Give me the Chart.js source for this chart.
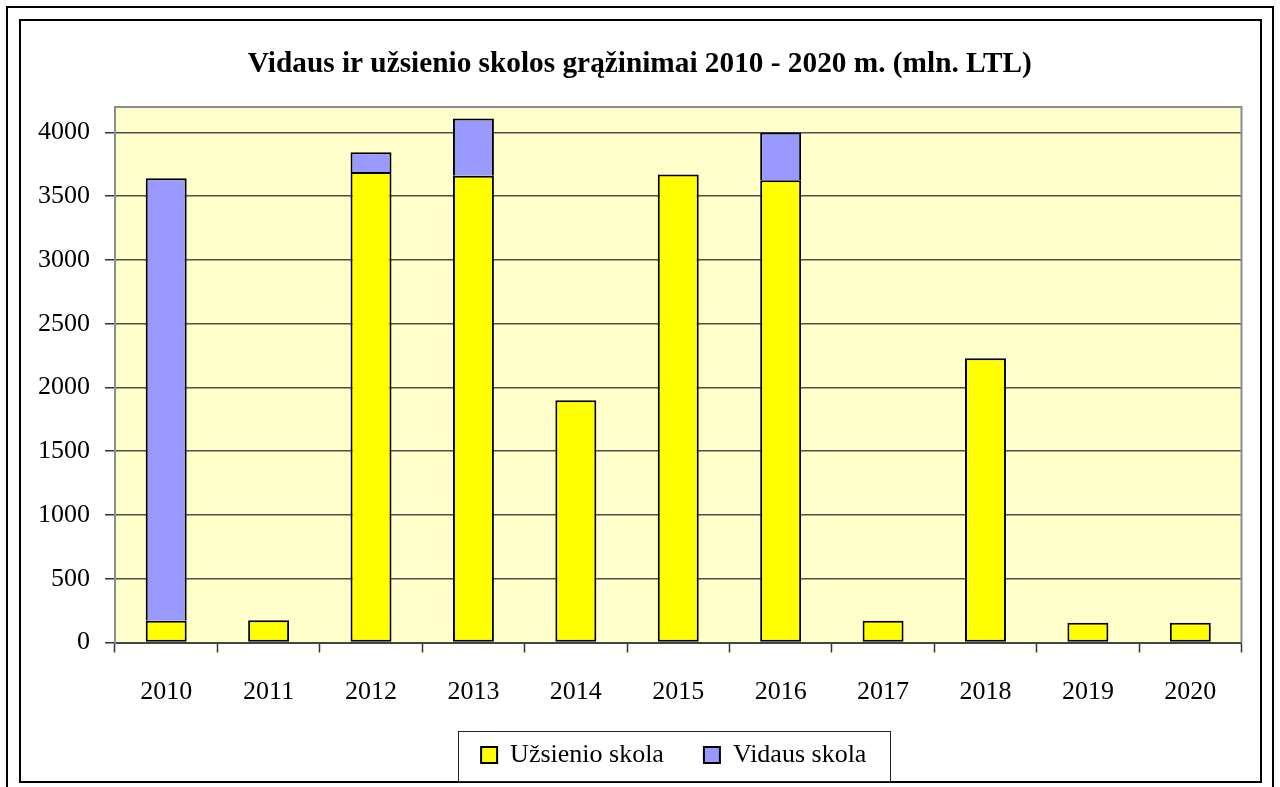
<!DOCTYPE html>
<html>
<head>
<meta charset="utf-8">
<script src="https://cdn.jsdelivr.net/npm/chart.js@4.4.1/dist/chart.umd.min.js"></script>
<style>
  html, body { margin: 0; padding: 0; background: #ffffff; }
  #c { display: block; width: 1280px; height: 787px; }
</style>
</head>
<body>
<canvas id="c" width="1280" height="787"></canvas>
<script>
const chartTitle = 'Vidaus ir užsienio skolos grąžinimai 2010 - 2020 m. (mln. LTL)';
const years = ['2010','2011','2012','2013','2014','2015','2016','2017','2018','2019','2020'];
const uzsienioSkola = [170, 175, 3690, 3660, 1900, 3670, 3625, 170, 2230, 155, 155];
const vidausSkola = [3470, null, 155, 450, null, null, 375, null, null, null, null];
const seriesNames = ['Užsienio skola', 'Vidaus skola'];
const yTickValues = [0, 500, 1000, 1500, 2000, 2500, 3000, 3500, 4000];
const yMax = 4200;

const FONT = "'Liberation Serif', 'Times New Roman', serif";

const decorPlugin = {
  id: 'decor',
  beforeDraw(chart) {
    const ctx = chart.ctx;
    const a = chart.chartArea;
    ctx.save();
    ctx.fillStyle = '#ffffff';
    ctx.fillRect(0, 0, chart.width, chart.height);
    ctx.fillStyle = '#FFFFCC';
    ctx.fillRect(a.left, a.top, a.right - a.left, a.bottom - a.top);
    ctx.restore();
  },
  afterLayout(chart) {
    const lg = chart.legend;
    if (lg) { lg.left += 53; lg.right += 53; }
    const tb = chart.titleBlock;
    if (tb) { tb.left += 19; tb.right += 19; }
  },
  afterDraw(chart) {
    const ctx = chart.ctx;
    const a = chart.chartArea;
    ctx.save();
    ctx.strokeStyle = '#8c8c8c';
    ctx.lineWidth = 2;
    ctx.beginPath();
    ctx.moveTo(a.left, a.top);
    ctx.lineTo(a.right, a.top);
    ctx.lineTo(a.right, a.bottom);
    ctx.stroke();
    ctx.strokeStyle = '#000000';
    ctx.lineWidth = 2;
    ctx.strokeRect(7, 7, 1266, 820);
    ctx.strokeRect(20, 20, 1241, 762);
    const lg = chart.legend;
    if (lg && lg.legendHitBoxes && lg.legendHitBoxes.length) {
      const hb = lg.legendHitBoxes;
      const first = hb[0], last = hb[hb.length - 1];
      const l = first.left - 23;
      const r = last.left + last.width + 24;
      const t = first.top - 11;
      const b = first.top + first.height + 13;
      ctx.strokeStyle = '#222222';
      ctx.lineWidth = 1;
      ctx.strokeRect(Math.round(l) + 0.5, Math.round(t) + 0.5, Math.round(r - l), Math.round(b - t));
    }
    ctx.restore();
  }
};

new Chart(document.getElementById('c'), {
  type: 'bar',
  data: {
    labels: years,
    datasets: [
      {
        label: seriesNames[0],
        data: uzsienioSkola,
        backgroundColor: '#FFFF00',
        borderColor: '#000000',
        borderWidth: 2,
        borderSkipped: false,
        categoryPercentage: 1.0,
        barPercentage: 0.4
      },
      {
        label: seriesNames[1],
        data: vidausSkola,
        backgroundColor: '#9999FF',
        borderColor: '#000000',
        borderWidth: 2,
        borderSkipped: 'start',
        categoryPercentage: 1.0,
        barPercentage: 0.4
      }
    ]
  },
  options: {
    responsive: false,
    devicePixelRatio: 1,
    animation: false,
    layout: { padding: { top: 40, left: 0, right: 38.5, bottom: 9 } },
    plugins: {
      title: {
        display: true,
        text: chartTitle,
        color: '#000000',
        font: { family: FONT, size: 29.3, weight: 'bold' },
        padding: { top: 6.4, bottom: 25.4 }
      },
      legend: {
        display: true,
        position: 'bottom',
        labels: {
          color: '#000000',
          font: { family: FONT, size: 26 },
          boxWidth: 16,
          boxHeight: 16,
          padding: 40
        }
      },
      tooltip: { enabled: false }
    },
    scales: {
      x: {
        stacked: true,
        offset: true,
        afterFit(scale) { scale.height = 59.5; },
        grid: {
          display: true,
          offset: true,
          drawOnChartArea: false,
          drawTicks: true,
          tickLength: 10,
          tickColor: '#333333',
          tickWidth: 1.5
        },
        border: { display: true, color: '#444444', width: 2 },
        ticks: {
          color: '#000000',
          font: { family: FONT, size: 26 },
          padding: 24,
          maxRotation: 0,
          autoSkip: false
        }
      },
      y: {
        stacked: true,
        min: 0,
        max: yMax,
        afterFit(scale) { scale.width = 115; },
        afterBuildTicks(scale) {
          scale.ticks = yTickValues.map(v => ({ value: v }));
        },
        grid: {
          color: '#4d4d4d',
          lineWidth: 1.5,
          drawTicks: true,
          tickLength: 10,
          tickColor: '#333333',
          tickWidth: 1.5
        },
        border: { display: true, color: '#8c8c8c', width: 2 },
        ticks: {
          color: '#000000',
          font: { family: FONT, size: 26 },
          padding: 15,
          autoSkip: false,
          callback: (v) => String(v)
        }
      }
    }
  },
  plugins: [decorPlugin]
});
</script>
</body>
</html>
